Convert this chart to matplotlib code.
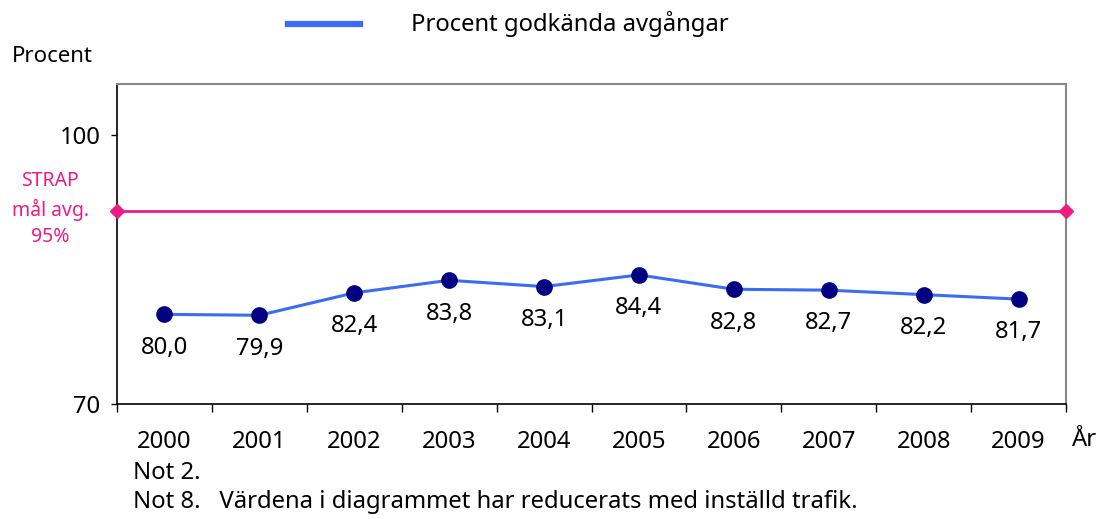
import matplotlib.pyplot as plt
import numpy as np

plt.rcParams['font.family'] = ['Noto Sans', 'DejaVu Sans']

years = ['2000', '2001', '2002', '2003', '2004', '2005', '2006', '2007', '2008', '2009']
godkanda = [80.0, 79.9, 82.4, 83.8, 83.1, 84.4, 82.8, 82.7, 82.2, 81.7]
labels = ['80,0', '79,9', '82,4', '83,8', '83,1', '84,4', '82,8', '82,7', '82,2', '81,7']
strap_mal = 91.5
y_ticks = [70, 100]

FS = 17.2

def main():
	fig = plt.figure(figsize=(11.02, 5.19), dpi=100)
	ax = fig.add_axes([117 / 1102, 115 / 519, 949 / 1102, 320 / 519])

	x = np.arange(len(years))
	ax.plot(x, godkanda, color='#3a6cf4', lw=2.2, zorder=3)
	ax.plot(x, godkanda, 'o', color='#000080', ms=11, zorder=4)
	for xi, yi, s in zip(x, godkanda, labels):
		ax.annotate(s, (xi, yi), xytext=(0, -24), textcoords='offset points',
					ha='center', va='center', fontsize=FS)

	ax.plot([-0.5, len(years) - 0.5], [strap_mal, strap_mal], color='#ec1c84',
			lw=2, marker='D', ms=7, clip_on=False, zorder=5)

	ax.set_xlim(-0.5, len(years) - 0.5)
	ax.set_ylim(70, 105.7)
	ax.set_xticks(x)
	ax.set_xticklabels(years, fontsize=FS)
	ax.set_xticks(np.arange(len(years) + 1) - 0.5, minor=True)
	ax.tick_params(axis='x', which='major', length=0, pad=19)
	ax.tick_params(axis='x', which='minor', length=6, width=1, color='black')
	ax.set_yticks(y_ticks)
	ax.set_yticklabels([str(v) for v in y_ticks], fontsize=FS)
	ax.tick_params(axis='y', length=4, width=1, pad=8)

	for side in ['left', 'bottom']:
		ax.spines[side].set_color('black')
		ax.spines[side].set_linewidth(1.2)
	for side in ['top', 'right']:
		ax.spines[side].set_color('#888888')
		ax.spines[side].set_linewidth(1.5)

	fig.text(12 / 1102, 1 - 57 / 519, 'Procent', fontsize=16, ha='left', va='center')
	fig.text(50 / 1102, 1 - 209 / 519, 'STRAP\nmål avg.\n95%', fontsize=14, color='#ec1c84',
			 ha='center', va='center', linespacing=1.45)
	fig.text(1072 / 1102, 1 - 440 / 519, 'År', fontsize=FS, ha='left', va='center')
	fig.text(133 / 1102, 1 - 473 / 519, 'Not 2.', fontsize=FS, ha='left', va='center')
	fig.text(133 / 1102, 1 - 502 / 519, 'Not 8.   Värdena i diagrammet har reducerats med inställd trafik.',
			 fontsize=FS, ha='left', va='center')

	fig.lines.append(plt.Line2D([288 / 1102, 360 / 1102], [1 - 24 / 519, 1 - 24 / 519],
								transform=fig.transFigure, color='#3a6cf4', lw=4.5))
	fig.text(411 / 1102, 1 - 24 / 519, 'Procent godkända avgångar', fontsize=FS,
			 ha='left', va='center')

	fig.savefig('out.png', dpi=100)


if __name__ == '__main__':
	main()
